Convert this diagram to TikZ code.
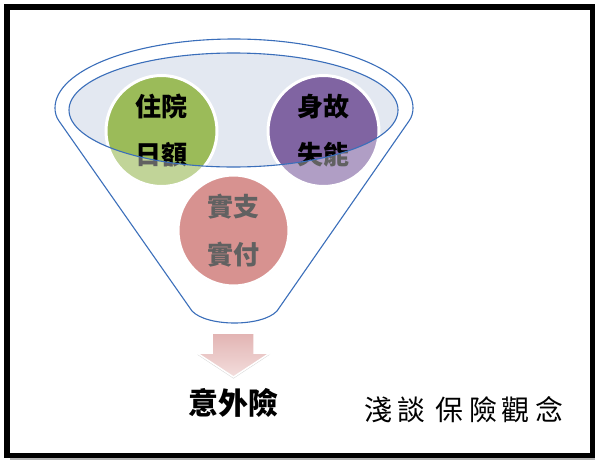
\documentclass[tikz,border=0pt]{standalone}
\usepackage{fontspec}
\newfontfamily\cjk{Noto Sans CJK TC}
\usetikzlibrary{shadows}
\definecolor{funnelblue}{HTML}{3A6EBA}
\definecolor{ellfill}{HTML}{E3E8F1}
\definecolor{cgreen}{HTML}{9BBB59}
\definecolor{cpurple}{HTML}{8064A2}
\definecolor{cred}{HTML}{C0504D}
\definecolor{arrtop}{HTML}{E2B3B2}
\definecolor{arrbot}{HTML}{F3DEDD}
\tikzset{
  bubble/.style={circle, draw=white, line width=3pt, minimum size=111pt, inner sep=0pt,
    align=center, text=black, font=\cjk\bfseries\fontsize{26}{48}\selectfont,
    drop shadow={shadow xshift=0pt, shadow yshift=-1pt, opacity=0.25}},
  outline/.style={draw=funnelblue, line width=1.1pt},
}
\begin{document}
\begin{tikzpicture}[x=1pt,y=-1pt]
\useasboundingbox (0,0) rectangle (600,466);
\fill[white] (0,0) rectangle (600,466);
% frame with shadow
\draw[gray!60, line width=2pt] (10,459) -- (594,459) -- (594,10);
\draw[black, line width=5.5pt] (7,7) rectangle (592.5,455.5);
\def\funnelpath{(55,108) arc[start angle=180,end angle=0,x radius=179pt,y radius=69pt]
  .. controls (413,112) and (412,117) .. (409,121)
  -- (277,311)
  .. controls (262,327) and (207,327) .. (192,311)
  -- (59,121)
  .. controls (56,117) and (55,112) .. (55,108) -- cycle}
% inner ellipse fill
\fill[ellfill] (233.5,110) ellipse[x radius=164.5pt, y radius=57pt];
% circles
\node[bubble, fill=cgreen] (zhuyuan) at (161.5,131) {住院\\日額};
\node[bubble, fill=cpurple] (shengu) at (323.5,131) {身故\\失能};
\node[bubble, fill=cred] (shizhi) at (233.5,230.5) {實支\\實付};
% translucent funnel body over the circles, except inside the mouth
\fill[white, fill opacity=0.38, even odd rule] \funnelpath (233.5,110) ellipse[x radius=164.5pt, y radius=57pt];
% outlines
\draw[outline] \funnelpath;
\draw[outline] (233.5,110) ellipse[x radius=164.5pt, y radius=57pt];
% arrow
\shade[top color=arrtop, bottom color=arrbot, draw=white, line width=1.5pt,
  drop shadow={shadow xshift=0pt, shadow yshift=-1.5pt, opacity=0.3}]
  (212,333) -- (254,333) -- (254,353) -- (270,353) -- (233.5,377) -- (197,353) -- (212,353) -- cycle;
\node[font=\cjk\bfseries\fontsize{30}{36}\selectfont] (yiwai) at (233.5,403) {意外險};
% title
\node[font=\cjk\fontsize{28}{32}\selectfont, text=black] (title) at (464,410) {淺\hspace{6pt}談\hspace{10pt}保\hspace{5pt}險\hspace{5pt}觀\hspace{6pt}念};
\end{tikzpicture}
\end{document}
